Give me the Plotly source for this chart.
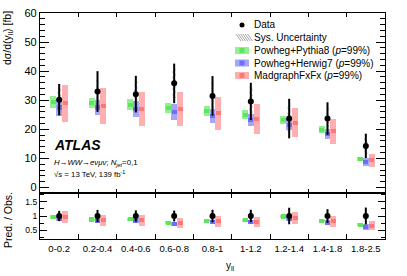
import plotly.graph_objects as go

# ---------------- data ----------------
bins = ["0-0.2", "0.2-0.4", "0.4-0.6", "0.6-0.8", "0.8-1", "1-1.2", "1.2-1.4", "1.4-1.8", "1.8-2.5"]
data = [30.2, 33.0, 32.1, 35.8, 31.5, 29.6, 23.7, 23.7, 14.3]
data_err = [5.4, 7.0, 6.3, 6.8, 6.8, 6.4, 6.8, 5.6, 4.2]
data_sys = [4.0, 4.8, 4.5, 5.0, 5.0, 4.8, 4.5, 4.0, 2.8]
pythia = [29.4, 29.0, 28.5, 27.3, 26.3, 25.0, 23.3, 19.8, 9.9]
pythia_err = [1.9, 1.8, 1.8, 1.7, 1.7, 1.5, 1.4, 1.2, 0.7]
herwig = [27.5, 27.5, 27.0, 26.0, 24.6, 23.1, 21.5, 18.3, 8.8]
herwig_err = [2.9, 2.7, 2.6, 2.7, 2.4, 2.1, 1.9, 1.8, 1.45]
madgraph = [28.9, 27.9, 27.1, 27.0, 25.5, 23.6, 22.3, 19.3, 9.4]
madgraph_err = [6.3, 6.2, 5.9, 6.0, 5.6, 5.2, 4.9, 4.3, 2.2]

# ---------------- geometry helpers ----------------
W, H = 407, 276
ML, MR, MT, MB = 40, 22, 13, 37
PW, PH = W - ML - MR, H - MT - MB
RATIO_FRAC = 46 / PH
FONT = "Liberation Sans, Arial, Helvetica, sans-serif"


def px(x):
    return (x - ML) / PW


def py(y):
    return (H - MB - y) / PH


xs = list(range(len(bins)))
BW = 0.155
preds = [
    ("Powheg+Pythia8", pythia, pythia_err, -0.15, "rgba(145,240,145,1)", "rgba(95,228,95,1)"),
    ("Powheg+Herwig7", herwig, herwig_err, 0.0, "rgba(165,165,250,1)", "rgba(110,110,250,1)"),
    ("MadgraphFxFx", madgraph, madgraph_err, 0.155, "rgba(255,175,175,1)", "rgba(255,120,120,1)"),
]

fig = go.Figure()

for panel in ("main", "ratio"):
    xa, ya = ("x", "y") if panel == "main" else ("x2", "y2")
    core = 1.4 if panel == "main" else 0.14
    for name, vals, errs, off, light, dark in preds:
        if panel == "main":
            c, e = vals, errs
        else:
            c = [v / d for v, d in zip(vals, data)]
            e = [er / d for er, d in zip(errs, data)]
        fig.add_trace(go.Bar(
            x=[i + off for i in xs], y=[2 * ee for ee in e], base=[cc - ee for cc, ee in zip(c, e)],
            width=BW, marker=dict(color=light, line=dict(width=0)), xaxis=xa, yaxis=ya,
            showlegend=False, hoverinfo="skip"))
        fig.add_trace(go.Bar(
            x=[i + off for i in xs], y=[core] * len(xs), base=[cc - core / 2 for cc in c],
            width=BW * 0.85, marker=dict(color=dark, line=dict(width=0)), xaxis=xa, yaxis=ya,
            showlegend=False, hoverinfo="skip"))
    if panel == "main":
        fig.add_trace(go.Bar(
            x=xs, y=[2 * s for s in data_sys], base=[d - s for d, s in zip(data, data_sys)],
            width=0.09, marker=dict(color="rgba(0,0,0,0)", line=dict(width=0),
                                    pattern=dict(shape="\\", fgcolor="rgba(140,140,140,1)", size=4, solidity=0.25)),
            xaxis=xa, yaxis=ya, showlegend=False, hoverinfo="skip"))
        yv, ev = data, data_err
    else:
        yv = [1.0] * len(xs)
        ev = [er / d for er, d in zip(data_err, data)]
    fig.add_trace(go.Scatter(
        x=xs, y=yv, mode="markers",
        marker=dict(color="black", size=6),
        error_y=dict(type="data", array=ev, color="black", thickness=2, width=0),
        xaxis=xa, yaxis=ya, showlegend=False, hoverinfo="skip"))

bounds = [i + 0.5 for i in xs[:-1]]
axis_common = dict(showline=True, linecolor="black", linewidth=1.2, mirror="ticks",
                   ticks="inside", tickcolor="black", showgrid=False, zeroline=False,
                   automargin=False)

fig.update_layout(
    width=W, height=H,
    margin=dict(l=ML, r=MR, t=MT, b=MB, autoexpand=False),
    paper_bgcolor="white", plot_bgcolor="white",
    barmode="overlay", bargap=0,
    showlegend=False,
    xaxis=dict(domain=[0, 1], range=[-0.5, 8.5], anchor="y",
               tickmode="array", tickvals=xs, ticklen=0, showticklabels=False,
               minor=dict(tickmode="array", tickvals=bounds, ticks="inside", ticklen=4, tickcolor="black"),
               **axis_common),
    yaxis=dict(domain=[RATIO_FRAC, 1], range=[-1.9, 60], anchor="x",
               tickmode="linear", tick0=0, dtick=10, ticklen=9, tickwidth=1.2,
               minor=dict(dtick=2, ticks="inside", ticklen=5, tickcolor="black"),
               tickfont=dict(family=FONT, size=11, color="black"),
               **axis_common),
    xaxis2=dict(domain=[0, 1], range=[-0.5, 8.5], anchor="y2",
                tickmode="array", tickvals=xs, ticktext=bins, ticklen=0,
                minor=dict(tickmode="array", tickvals=bounds, ticks="inside", ticklen=5, tickcolor="black"),
                tickfont=dict(family=FONT, size=9.5, color="black"),
                **axis_common),
    yaxis2=dict(domain=[0, RATIO_FRAC], range=[0.2, 1.8], anchor="x2",
                tickmode="linear", tick0=0.5, dtick=0.5, ticklen=7,
                minor=dict(dtick=0.25, ticks="inside", ticklen=4, tickcolor="black"),
                tickfont=dict(family=FONT, size=8.5, color="black"),
                **axis_common),
)

ann = []
shapes = []
# axis titles
ann.append(dict(x=px(8), y=py(9), xref="paper", yref="paper", text="dσ/d(y<sub>ll</sub>) [fb]",
                textangle=-90, xanchor="center", yanchor="top", showarrow=False,
                font=dict(family=FONT, size=10.5, color="black")))
ann.append(dict(x=px(8), y=py(220), xref="paper", yref="paper", text="Pred. / Obs.",
                textangle=-90, xanchor="center", yanchor="middle", showarrow=False,
                font=dict(family=FONT, size=10.5, color="black")))
ann.append(dict(x=px(230), y=py(266), xref="paper", yref="paper", text="y<sub>ll</sub>",
                xanchor="center", yanchor="middle", showarrow=False,
                font=dict(family=FONT, size=10, color="black")))
# ATLAS label
ann.append(dict(x=px(52), y=py(145), xref="paper", yref="paper", text="<b><i>ATLAS</i></b>",
                xanchor="left", yanchor="middle", showarrow=False,
                font=dict(family=FONT, size=14, color="black")))
ann.append(dict(x=px(52), y=py(163), xref="paper", yref="paper",
                text="<i>H</i>→<i>WW</i>→<i>eνμν</i>; <i>N</i><sub><i>jet</i></sub>=0,1",
                xanchor="left", yanchor="middle", showarrow=False,
                font=dict(family=FONT, size=7.8, color="black")))
ann.append(dict(x=px(52), y=py(174), xref="paper", yref="paper",
                text="√<i>s</i> = 13 TeV, 139 fb<sup>-1</sup>",
                xanchor="left", yanchor="middle", showarrow=False,
                font=dict(family=FONT, size=7.8, color="black")))

# legend
rows = [25, 37.5, 50.5, 63, 75.5]
labels = ["Data", "Sys. Uncertainty",
          "Powheg+Pythia8 (<i>p</i>=99%)", "Powheg+Herwig7 (<i>p</i>=99%)", "MadgraphFxFx (<i>p</i>=99%)"]
for r, lab in zip(rows, labels):
    ann.append(dict(x=px(252), y=py(r), xref="paper", yref="paper", text=lab,
                    xanchor="left", yanchor="middle", showarrow=False,
                    font=dict(family=FONT, size=10, color="black")))
shapes.append(dict(type="circle", xref="paper", yref="paper",
                   x0=px(239.5), x1=px(244.5), y0=py(rows[0] + 2.5), y1=py(rows[0] - 2.5),
                   fillcolor="black", line=dict(width=0)))
for k in range(6):
    x0 = 236 + k * 2.3
    shapes.append(dict(type="line", xref="paper", yref="paper",
                       x0=px(x0), y0=py(rows[1] - 3.5), x1=px(x0 + 5), y1=py(rows[1] + 3.5),
                       line=dict(color="rgba(130,130,130,1)", width=0.7)))
for r, (_, _, _, _, light, dark) in zip(rows[2:], preds):
    shapes.append(dict(type="rect", xref="paper", yref="paper",
                       x0=px(235), x1=px(249), y0=py(r + 3.5), y1=py(r - 3.5),
                       fillcolor=light, line=dict(width=0)))
    shapes.append(dict(type="rect", xref="paper", yref="paper",
                       x0=px(239.5), x1=px(244.5), y0=py(r + 2.5), y1=py(r - 2.5),
                       fillcolor=dark, line=dict(width=0)))

fig.update_layout(annotations=ann, shapes=shapes)
fig.write_html("out.html", config={"displayModeBar": False},
               post_script="document.body.style.margin='0';document.body.style.overflow='hidden';")
